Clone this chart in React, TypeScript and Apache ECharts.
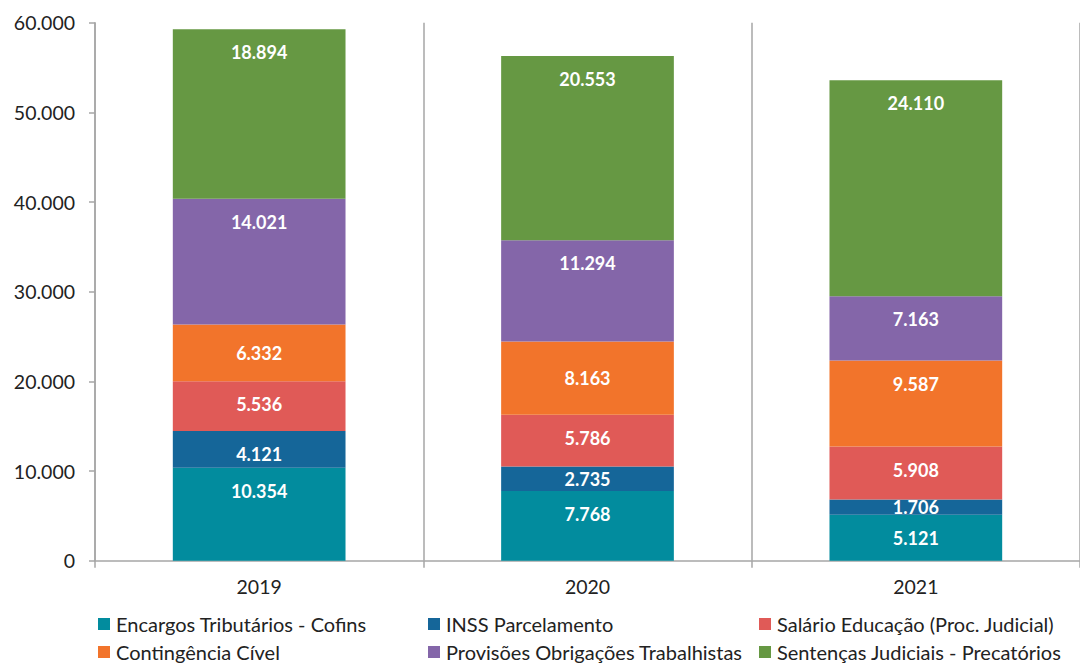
import React, { useEffect, useRef } from "react";
import * as echarts from "echarts";

const categories = ["2019", "2020", "2021"];
const seriesNames = [
  "Encargos Tributários - Cofins",
  "INSS Parcelamento",
  "Salário Educação (Proc. Judicial)",
  "Contingência Cível",
  "Provisões Obrigações Trabalhistas",
  "Sentenças Judiciais - Precatórios",
];
const cofins = [10354, 7768, 5121];
const inss = [4121, 2735, 1706];
const salarioEducacao = [5536, 5786, 5908];
const contingencia = [6332, 8163, 9587];
const provisoes = [14021, 11294, 7163];
const sentencas = [18894, 20553, 24110];
const seriesValues = [cofins, inss, salarioEducacao, contingencia, provisoes, sentencas];

const yTicks = { min: 0, max: 60000, interval: 10000 };

const colors = ["#028C9E", "#156699", "#E05A57", "#F2742B", "#8466A9", "#669843"];
// labels drawn centered in their segment (series index, category index)
const centeredLabels = [
  [3, 0],
  [3, 1],
  [1, 1],
  [1, 2],
];

const legendPos = [
  { left: 98, top: 614 },
  { left: 428, top: 614 },
  { left: 759, top: 614 },
  { left: 98, top: 642 },
  { left: 428, top: 642 },
  { left: 759, top: 642 },
];

const FONT = "Lato, 'Open Sans', sans-serif";
const fmt = (v: number) => String(Math.round(v)).replace(/\B(?=(\d{3})+(?!\d))/g, ".");

export default function App() {
  const ref = useRef<HTMLDivElement>(null);
  useEffect(() => {
    if (!ref.current) return;
    const chart = echarts.init(ref.current, undefined, { renderer: "svg" });
    const option = {
      animation: false,
      backgroundColor: "#ffffff",
      textStyle: { fontFamily: FONT },
      grid: { left: 95, right: -8, top: 22.7, bottom: 103.3, containLabel: false },
      legend: seriesNames.map((name, i) => ({
        data: [name],
        left: legendPos[i].left,
        top: legendPos[i].top,
        padding: 0,
        icon: "rect",
        itemWidth: 12,
        itemHeight: 12,
        itemGap: 0,
        selectedMode: false,
        textStyle: { fontSize: 20, fontFamily: FONT, color: "#222", padding: [0, 0, 0, 1] },
      })),
      xAxis: {
        type: "category",
        data: categories,
        axisLine: { show: true, lineStyle: { color: "#A6A6A6", width: 1.5 } },
        axisTick: { show: true, length: 7, lineStyle: { color: "#A6A6A6", width: 1.5 } },
        splitLine: { show: true, lineStyle: { color: "#A6A6A6", width: 1.5 } },
        axisLabel: { fontSize: 19.5, color: "#222", fontFamily: FONT, margin: 16 },
      },
      yAxis: {
        type: "value",
        min: yTicks.min,
        max: yTicks.max,
        interval: yTicks.interval,
        axisLine: { show: true, lineStyle: { color: "#A6A6A6", width: 1.5 } },
        axisTick: { show: true, length: 6, lineStyle: { color: "#A6A6A6", width: 1.5 } },
        splitLine: { show: false },
        axisLabel: { fontSize: 19.5, color: "#222", fontFamily: FONT, margin: 20, formatter: fmt },
      },
      series: seriesNames.map((name, si) => ({
        name,
        type: "bar",
        stack: "total",
        barWidth: "52.6%",
        itemStyle: { color: colors[si] },
        label: {
          show: true,
          position: "insideTop",
          distance: 14,
          color: "#fff",
          fontWeight: "bold",
          fontSize: 18,
          fontFamily: FONT,
          formatter: (p: any) => fmt(p.value),
        },
        data: seriesValues[si].map((v, ci) =>
          centeredLabels.some(([s, c]) => s === si && c === ci)
            ? { value: v, label: { position: "inside" } }
            : v
        ),
      })),
    };
    chart.setOption(option as any);
    return () => chart.dispose();
  }, []);
  return (
    <div
      ref={ref}
      style={{ position: "absolute", left: 0, top: 0, width: 1080, height: 664 }}
    />
  );
}
